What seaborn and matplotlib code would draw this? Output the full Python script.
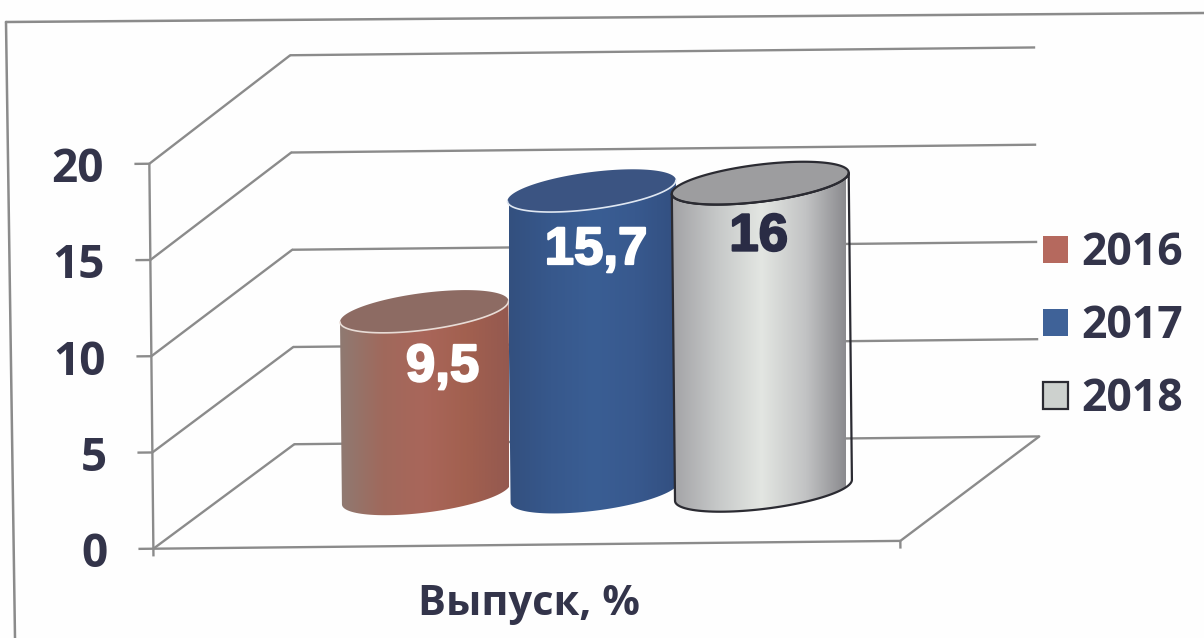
import numpy as np
import pandas as pd
import matplotlib
matplotlib.use('Agg')
import matplotlib.pyplot as plt
import matplotlib.patheffects as pe
import seaborn as sns
from matplotlib.colors import LinearSegmentedColormap
from matplotlib.lines import Line2D
from matplotlib.patches import ConnectionPatch, Patch, Polygon
from matplotlib.path import Path
from matplotlib.transforms import Affine2D

# --- data ---
years = ['2016', '2017', '2018']
values = [9.5, 15.7, 16]
group = ['Выпуск, %']
y_ticks = [0, 5, 10, 15, 20]

# --- style ---
W, H = 1204, 638
GREY = '#8b8b8b'
INK = '#33344a'
legend_colors = ['#b5695e', '#3f6298', '#cdd1ce']
body_stops = [
    ['#8f7a72', '#a0695c', '#a9665a', '#a2604f', '#94594f'],
    ['#33507f', '#37588c', '#3a5e94', '#38598e', '#324f80'],
    ['#a3a3a6', '#c6c8c8', '#e3e6e2', '#c2c3c4', '#858589'],
]
top_colors = ['#8d6b63', '#3b5482', '#9d9d9f']
edge_colors = ['none', 'none', '#2b2b32']
rim_colors = ['#e8dcd6', '#dfe7f2', '#2b2b32']

sns.set_theme(style='white')
plt.rcParams['font.family'] = ['Open Sans', 'DejaVu Sans']


def add_axes(fig, x0, x1, y_bottom, y_top):
    return fig.add_axes([x0 / W, 1 - y_bottom / H, (x1 - x0) / W, (y_bottom - y_top) / H])


fig = plt.figure(figsize=(W / 100, H / 100), dpi=100, facecolor='#fefefe')
tilt = Affine2D().rotate_deg_around(W / 2, H / 2, 0.6)

# outer frame of the scanned page
fig.add_artist(Line2D([6 / W, 1], [1 - 22 / H, 1 - 13 / H], color=GREY, lw=1.8))
fig.add_artist(Line2D([6 / W, 15 / W], [1 - 22 / H, 0], color=GREY, lw=1.8))

ax_back = add_axes(fig, 293, 1038, 441, 52)
ax_front = add_axes(fig, 151, 898, 544, 159)
# the bars axes reach 2 units below zero so the round bottoms are not cut off
ax_bars = add_axes(fig, 340, 846, 530.4, 108)

for ax in [ax_back, ax_front, ax_bars]:
    ax.set_facecolor('none')
    sns.despine(ax=ax, left=True, bottom=True)
ax_back.set_ylim(0, 20)
ax_front.set_ylim(0, 20)
ax_back.set_xlim(0, 1)
ax_front.set_xlim(0, 1)
ax_back.set_xticks([])
ax_back.set_yticks([])
ax_back.set_zorder(1)
ax_front.set_zorder(2)
ax_bars.set_zorder(3)

line_style = dict(color=GREY, lw=1.7, clip_on=False, solid_capstyle='butt')

# --- back wall, side wall and floor ---
for v in y_ticks:
    ax_back.plot([0, 1], [v, v], transform=ax_back.transData + tilt, **line_style)
    ax_front.plot([-0.02, 0], [v, v], transform=ax_front.transData + tilt, **line_style)
    fig.add_artist(ConnectionPatch((0, v), (0, v),
                                   coordsA=ax_front.transData + tilt,
                                   coordsB=ax_back.transData + tilt,
                                   color=GREY, lw=1.7))
fig.add_artist(ConnectionPatch((1, 0), (1, 0),
                               coordsA=ax_front.transData + tilt,
                               coordsB=ax_back.transData + tilt,
                               color=GREY, lw=1.7))
ax_front.plot([0, 0], [-0.4, 20], transform=ax_front.transData + tilt, **line_style)
ax_front.plot([1, 1], [-0.4, 0], transform=ax_front.transData + tilt, **line_style)
ax_front.plot([0, 1], [0, 0], transform=ax_front.transData + tilt, **line_style)

ax_front.set_yticks(y_ticks)
ax_front.set_xticks([])
ax_front.tick_params(axis='y', length=0, pad=33, labelsize=33, labelcolor=INK)
for tick in ax_front.yaxis.get_major_ticks():
    tick.label1.set_fontweight('bold')
    tick.label1.set_transform(tick.label1.get_transform() + tilt)
ax_front.set_xlabel(group[0], fontsize=30, fontweight='bold', color=INK, labelpad=29, x=0.506)

# --- cylinders: seaborn bars give the geometry ---
df = pd.DataFrame({'group': group * len(years), 'year': years, 'value': values})
sns.barplot(data=df, x='group', y='value', hue='year', hue_order=years, width=1, gap=0,
            dodge=True, legend=False, ax=ax_bars)
ax_bars.set_xticks([])
ax_bars.set_yticks([])
ax_bars.set_xlabel('')
ax_bars.set_ylabel('')

rect_bars = list(ax_bars.patches)
t_low = np.linspace(np.pi, 2 * np.pi, 60)
t_all = np.linspace(0, 2 * np.pi, 120)
semi_b, shear = 0.97, 0.5


def arc(cx, a, level, t):
    return np.column_stack([cx + a * np.cos(t), level + semi_b * np.sin(t) + shear * np.cos(t)])


width_scale = [1, 1, 1.05]
label_dx = [0.036, 0.006, -0.006]
label_dy = [-3.0, -3.1, -2.7]
label_colors = ['white', 'white', '#2a2c45']
to_disp = ax_bars.transData + tilt
for i, bar in enumerate(rect_bars):
    x0, w, h = bar.get_x(), bar.get_width(), bar.get_height()
    cx, a = x0 + w / 2, w / 2 * width_scale[i]
    bar.set_visible(False)
    outline = np.vstack([arc(cx, a, 0, t_low), arc(cx, a, h, t_low[::-1])])

    cmap = LinearSegmentedColormap.from_list(f'bar{i}', body_stops[i])
    img = ax_bars.imshow(np.linspace(0, 1, 256)[None, :], cmap=cmap, aspect='auto',
                         extent=[cx - a, cx + a, -2, h + 2], zorder=3 + i)
    img.set_clip_path(Path(outline), to_disp)
    ax_bars.add_patch(Polygon(outline, closed=True, transform=to_disp, facecolor='none',
                              edgecolor=edge_colors[i], lw=1.6, zorder=3.2 + i, clip_on=False))
    ax_bars.add_patch(Polygon(arc(cx, a, h, t_all), closed=True, transform=to_disp,
                              facecolor=top_colors[i], edgecolor=edge_colors[i], lw=1.6,
                              zorder=3.3 + i, clip_on=False))
    ax_bars.plot(*arc(cx, a, h, t_low).T, color=rim_colors[i], lw=1.2, zorder=3.4 + i,
                 transform=to_disp, clip_on=False)

    ax_bars.text(cx + label_dx[i], h + label_dy[i], f'{values[i]:g}'.replace('.', ','),
                 color=label_colors[i], family='Liberation Sans', fontsize=38, fontweight='bold',
                 ha='center', va='center', zorder=10,
                 path_effects=[pe.withStroke(linewidth=1.5, foreground=label_colors[i])])

ax_bars.set_xlim(-0.5, 0.5)
ax_bars.set_ylim(-2, 20)

# --- legend ---
handles = [Patch(facecolor=c, edgecolor=e, lw=lw)
           for c, e, lw in zip(legend_colors, ['none', 'none', '#2b2b32'], [0, 0, 1.6])]
leg = fig.legend(handles, years, loc='center left', bbox_to_anchor=(1043 / W, 1 - 327 / H),
                 frameon=False, handlelength=0.56, handleheight=0.56,
                 handletextpad=0.31, labelspacing=0.63, borderpad=0, borderaxespad=0,
                 prop=dict(family='Open Sans', weight='bold', size=32))
for text in leg.get_texts():
    text.set_color(INK)

fig.savefig('out.png', dpi=100, facecolor=fig.get_facecolor())
